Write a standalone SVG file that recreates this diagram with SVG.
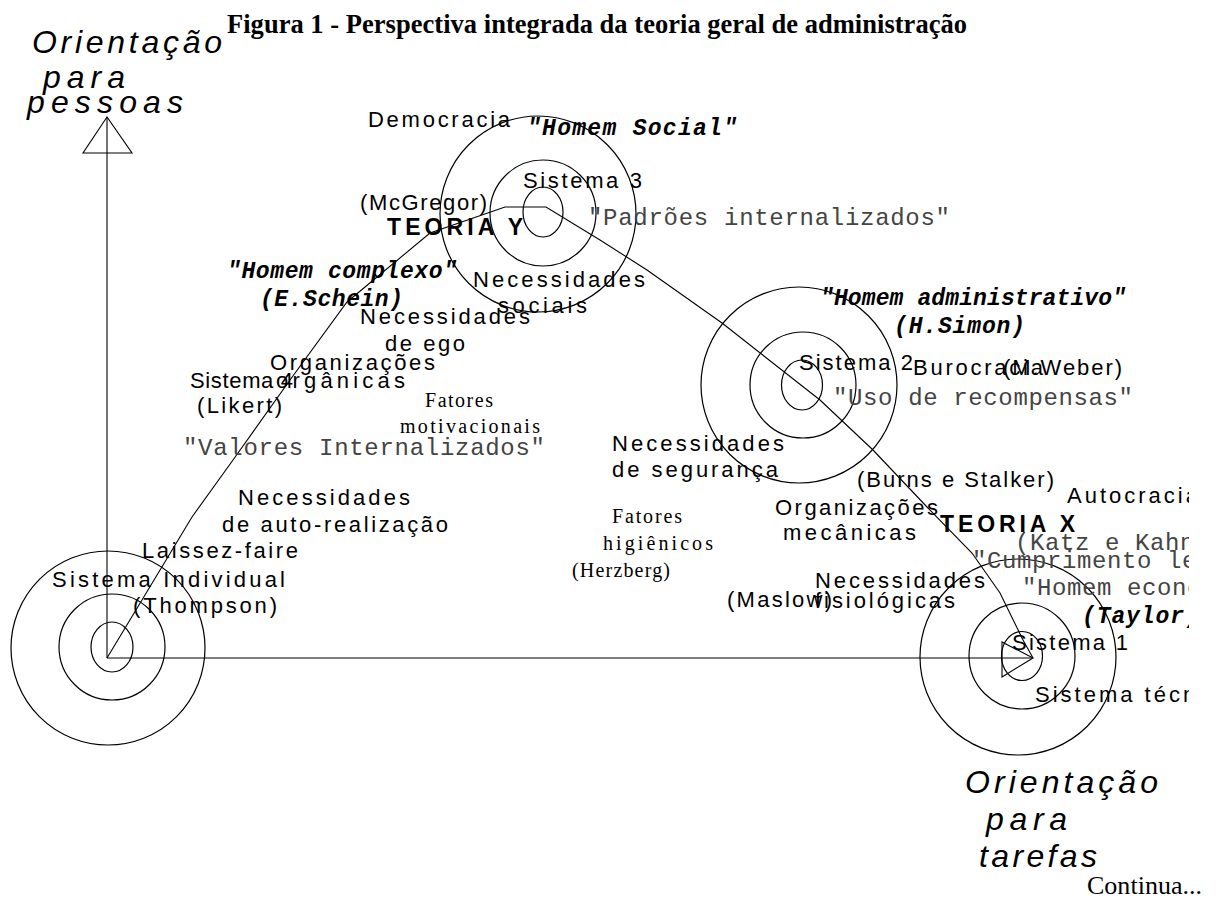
<svg xmlns="http://www.w3.org/2000/svg" width="1217" height="899" viewBox="0 0 1217 899">
<style>
.ln{fill:none;stroke:#000;stroke-width:1.1}
.c{fill:none;stroke:#000;stroke-width:1.2}
.s{font-family:"Liberation Sans",Arial,sans-serif;font-size:22px;fill:#000}
.b{font-family:"Liberation Sans",Arial,sans-serif;font-size:23px;font-weight:bold;fill:#000}
.ax{font-family:"Liberation Sans",Arial,sans-serif;font-size:32px;font-style:italic;fill:#000}
.m{font-family:"Liberation Mono","Courier New",monospace;font-size:24px;fill:#444}
.mb{font-family:"Liberation Mono","Courier New",monospace;font-size:23px;font-weight:bold;font-style:italic;fill:#000}
.t{font-family:"Liberation Serif","Times New Roman",serif;font-size:20px;fill:#000}
.title{font-family:"Liberation Serif","Times New Roman",serif;font-size:26.5px;font-weight:bold;fill:#000}
.cont{font-family:"Liberation Serif","Times New Roman",serif;font-size:26px;fill:#000}
</style>
<defs>
<clipPath id="frame"><rect x="0" y="0" width="1189" height="899"/></clipPath>
</defs>
<text class="title" x="227" y="33" textLength="740" lengthAdjust="spacing">Figura 1 - Perspectiva integrada da teoria geral de administração</text>
<g clip-path="url(#frame)">
<g id="connectors">
<line class="ln" x1="107" y1="658" x2="107" y2="117"/>
<polygon class="ln" points="107,117 83,153 132,153"/>
<line class="ln" x1="107" y1="658" x2="1033" y2="658"/>
<polygon class="ln" points="1033,658 1002,642 1002,677"/>
<polyline class="ln" points="107,658 192,517 233,460 290,380 347,302 430,233 505,207 546,207 600,240 647,270 722,323 820,400 873,450 927,507 972,553 1000,593 1023,640 1033,658"/>
</g>
<g id="sistema-individual">
<circle class="c" cx="108" cy="648" r="97"/>
<circle class="c" cx="112" cy="647" r="53"/>
<ellipse class="c" cx="112" cy="647" rx="21" ry="25"/>
<text class="s" x="52" y="587" textLength="233" lengthAdjust="spacing">Sistema Individual</text>
<text class="s" x="133" y="613" textLength="144" lengthAdjust="spacing">(Thompson)</text>
<text class="s" x="142" y="558" textLength="156" lengthAdjust="spacing">Laissez-faire</text>
</g>
<g id="sistema-3">
<circle class="c" cx="538" cy="214" r="98"/>
<circle class="c" cx="543" cy="213" r="53"/>
<ellipse class="c" cx="543" cy="212" rx="20" ry="25"/>
<text class="s" x="523" y="188" textLength="119" lengthAdjust="spacing">Sistema 3</text>
<text class="s" x="368" y="127" textLength="142" lengthAdjust="spacing">Democracia</text>
<text class="mb" x="527" y="135" textLength="210" lengthAdjust="spacing">"Homem Social"</text>
<text class="s" x="360" y="210" textLength="127" lengthAdjust="spacing">(McGregor)</text>
<text class="b" x="387" y="235" textLength="136" lengthAdjust="spacing">TEORIA Y</text>
<text class="m" x="588" y="225" textLength="362" lengthAdjust="spacing">"Padrões internalizados"</text>
<text class="s" x="473" y="287" textLength="172" lengthAdjust="spacing">Necessidades</text>
<text class="s" x="498" y="313" textLength="89" lengthAdjust="spacing">sociais</text>
</g>
<g id="sistema-4">
<text class="mb" x="227" y="278" textLength="230" lengthAdjust="spacing">"Homem complexo"</text>
<text class="mb" x="260" y="306" textLength="143" lengthAdjust="spacing">(E.Schein)</text>
<text class="s" x="360" y="324" textLength="170" lengthAdjust="spacing">Necessidades</text>
<text class="s" x="385" y="351" textLength="80" lengthAdjust="spacing">de ego</text>
<text class="s" x="270" y="370" textLength="165" lengthAdjust="spacing">Organizações</text>
<text class="s" x="190" y="388" textLength="103" lengthAdjust="spacing">Sistema 4</text>
<text class="s" x="276" y="388" textLength="129" lengthAdjust="spacing">orgânicas</text>
<text class="s" x="197" y="413" textLength="85" lengthAdjust="spacing">(Likert)</text>
<text class="t" x="425" y="407" textLength="68" lengthAdjust="spacing">Fatores</text>
<text class="t" x="400" y="433" textLength="140" lengthAdjust="spacing">motivacionais</text>
<text class="m" x="183" y="455" textLength="362" lengthAdjust="spacing">"Valores Internalizados"</text>
<text class="s" x="238" y="505" textLength="172" lengthAdjust="spacing">Necessidades</text>
<text class="s" x="222" y="532" textLength="226" lengthAdjust="spacing">de auto-realização</text>
</g>
<g id="sistema-2">
<circle class="c" cx="799" cy="385" r="98"/>
<circle class="c" cx="803" cy="385" r="53"/>
<ellipse class="c" cx="802" cy="385" rx="20.5" ry="25"/>
<text class="mb" x="820" y="305" textLength="306" lengthAdjust="spacing">"Homem administrativo"</text>
<text class="mb" x="894" y="333" textLength="131" lengthAdjust="spacing">(H.Simon)</text>
<text class="s" x="799" y="370" textLength="114" lengthAdjust="spacing">Sistema 2</text>
<text class="s" x="913" y="375" textLength="130" lengthAdjust="spacing">Burocracia</text>
<text class="s" x="1003" y="375" textLength="119" lengthAdjust="spacing">(M.Weber)</text>
<text class="m" x="833" y="405" textLength="300" lengthAdjust="spacing">"Uso de recompensas"</text>
<text class="s" x="612" y="451" textLength="172" lengthAdjust="spacing">Necessidades</text>
<text class="s" x="612" y="477" textLength="166" lengthAdjust="spacing">de segurança</text>
<text class="t" x="612" y="523" textLength="70" lengthAdjust="spacing">Fatores</text>
<text class="t" x="603" y="550" textLength="110" lengthAdjust="spacing">higiênicos</text>
<text class="t" x="572" y="577" textLength="98" lengthAdjust="spacing">(Herzberg)</text>
<text class="s" x="857" y="487" textLength="197" lengthAdjust="spacing">(Burns e Stalker)</text>
<text class="s" x="775" y="515" textLength="163" lengthAdjust="spacing">Organizações</text>
<text class="s" x="783" y="540" textLength="133" lengthAdjust="spacing">mecânicas</text>
</g>
<g id="sistema-1">
<circle class="c" cx="1018" cy="657" r="98"/>
<circle class="c" cx="1022" cy="656" r="53"/>
<ellipse class="c" cx="1022" cy="656" rx="20.5" ry="24.5"/>
<text class="s" x="1067" y="503" letter-spacing="3">Autocracia</text>
<text class="b" x="940" y="532" textLength="135" lengthAdjust="spacing">TEORIA X</text>
<text class="m" x="1015" y="550" letter-spacing="0.6">(Katz e Kahn</text>
<text class="m" x="972" y="568" letter-spacing="0.6">"Cumprimento le</text>
<text class="m" x="1022" y="595" letter-spacing="0.6">"Homem econô</text>
<text class="mb" x="1082" y="623" letter-spacing="0.9">(Taylor)</text>
<text class="s" x="815" y="588" textLength="170" lengthAdjust="spacing">Necessidades</text>
<text class="s" x="815" y="608" textLength="140" lengthAdjust="spacing">fisiológicas</text>
<text class="s" x="727" y="607" textLength="105" lengthAdjust="spacing">(Maslow)</text>
<text class="s" x="1012" y="650" textLength="116" lengthAdjust="spacing">Sistema 1</text>
<text class="s" x="1035" y="702" letter-spacing="3">Sistema técn</text>
</g>
<g id="eixo-pessoas">
<text class="ax" x="32" y="53" textLength="190" lengthAdjust="spacing">Orientação</text>
<text class="ax" x="43" y="88" textLength="82" lengthAdjust="spacing">para</text>
<text class="ax" x="27" y="113" textLength="156" lengthAdjust="spacing">pessoas</text>
</g>
<g id="eixo-tarefas">
<text class="ax" x="965" y="793" textLength="193" lengthAdjust="spacing">Orientação</text>
<text class="ax" x="986" y="830" textLength="81" lengthAdjust="spacing">para</text>
<text class="ax" x="979" y="867" textLength="118" lengthAdjust="spacing">tarefas</text>
</g>
</g>
<text class="cont" x="1087" y="894" textLength="115" lengthAdjust="spacing">Continua...</text>
</svg>
